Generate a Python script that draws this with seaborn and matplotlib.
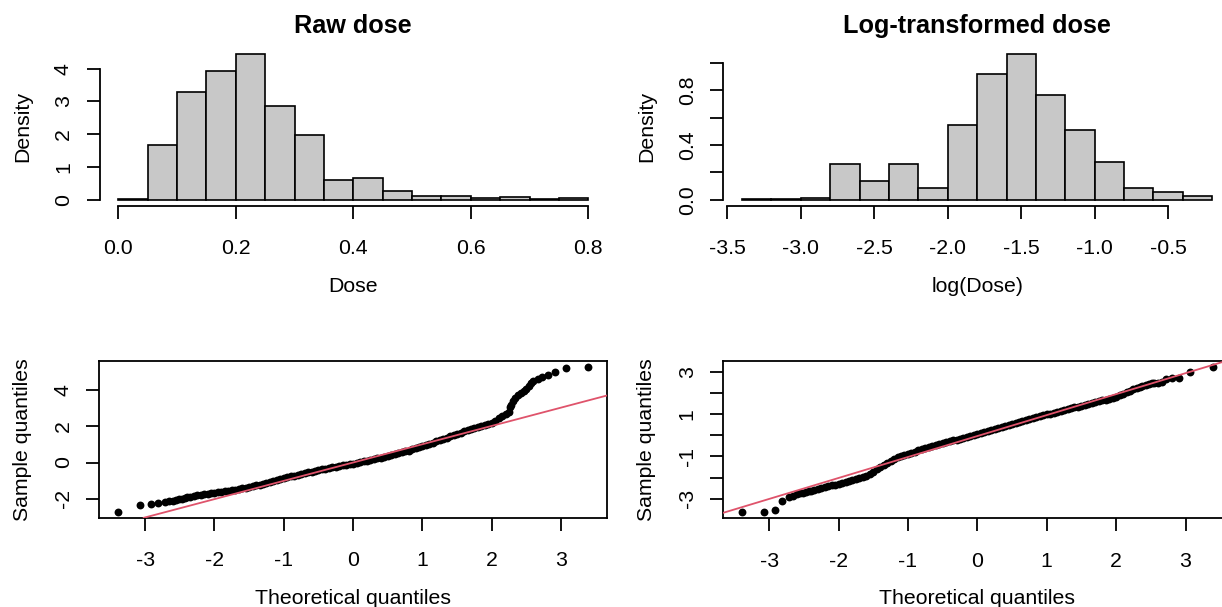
import numpy as np
import pandas as pd
import seaborn as sns
import matplotlib
matplotlib.use("Agg")
import matplotlib.pyplot as plt

# histogram bins and densities
raw_edges = [0.00, 0.05, 0.10, 0.15, 0.20, 0.25, 0.30, 0.35, 0.40,
             0.45, 0.50, 0.55, 0.60, 0.65, 0.70, 0.75, 0.80]
raw_density = [0.03, 1.66, 3.30, 3.92, 4.45, 2.85, 1.98, 0.59,
               0.65, 0.27, 0.11, 0.13, 0.06, 0.08, 0.02, 0.04]

log_edges = [-3.4, -3.2, -3.0, -2.8, -2.6, -2.4, -2.2, -2.0, -1.8,
             -1.6, -1.4, -1.2, -1.0, -0.8, -0.6, -0.4, -0.2]
log_density = [0.007, 0.004, 0.011, 0.261, 0.137, 0.261, 0.088, 0.547,
               0.918, 1.064, 0.762, 0.511, 0.273, 0.088, 0.054, 0.025]

# QQ plot points (theoretical, sample)
raw_theo = [-3.39, -3.07, -2.91, -2.81, -2.72, -2.66, -2.60, -2.55, -2.51, -2.47, -2.43, -2.40,
            -2.35, -2.30, -2.25, -2.20, -2.15, -2.10, -2.05, -2.00, -1.95, -1.90, -1.85, -1.80,
            -1.75, -1.70, -1.65, -1.60, -1.55, -1.50, -1.45, -1.40, -1.35, -1.30, -1.25, -1.20,
            -1.15, -1.10, -1.05, -1.00, -0.95, -0.90, -0.85, -0.80, -0.75, -0.70, -0.65, -0.60,
            -0.55, -0.50, -0.45, -0.40, -0.35, -0.30, -0.25, -0.20, -0.15, -0.10, -0.05, 0.00,
            0.05, 0.10, 0.15, 0.20, 0.25, 0.30, 0.35, 0.40, 0.45, 0.50, 0.55, 0.60,
            0.65, 0.70, 0.75, 0.80, 0.85, 0.90, 0.95, 1.00, 1.05, 1.10, 1.15, 1.20,
            1.25, 1.30, 1.35, 1.40, 1.45, 1.50, 1.55, 1.60, 1.65, 1.70, 1.75, 1.80,
            1.85, 1.90, 1.95, 2.00, 2.05, 2.10, 2.15, 2.20, 2.25,
            2.26, 2.28, 2.31, 2.34, 2.38, 2.42, 2.46, 2.50, 2.53, 2.56, 2.60, 2.66,
            2.72, 2.81, 2.91, 3.07, 3.39]
raw_sample = [-2.73, -2.37, -2.27, -2.21, -2.18, -2.15, -2.11, -2.06, -2.02, -1.99, -1.96, -1.93,
              -1.90, -1.86, -1.82, -1.79, -1.76, -1.73, -1.70, -1.67, -1.64, -1.61, -1.58, -1.55,
              -1.52, -1.49, -1.45, -1.42, -1.38, -1.34, -1.30, -1.26, -1.22, -1.17, -1.12, -1.07,
              -1.02, -0.97, -0.92, -0.87, -0.82, -0.77, -0.72, -0.68, -0.63, -0.59, -0.54, -0.50,
              -0.46, -0.42, -0.38, -0.34, -0.30, -0.26, -0.23, -0.19, -0.15, -0.12, -0.09, -0.06,
              -0.02, 0.02, 0.06, 0.10, 0.14, 0.18, 0.23, 0.27, 0.32, 0.36, 0.41, 0.46,
              0.51, 0.56, 0.61, 0.66, 0.72, 0.78, 0.84, 0.90, 0.97, 1.04, 1.10, 1.17,
              1.23, 1.30, 1.37, 1.44, 1.51, 1.58, 1.65, 1.72, 1.79, 1.85, 1.91, 1.96,
              2.01, 2.06, 2.12, 2.19, 2.30, 2.43, 2.57, 2.70, 2.80,
              3.05, 3.20, 3.40, 3.58, 3.72, 3.84, 3.93, 4.08, 4.20, 4.36, 4.47, 4.60,
              4.73, 4.84, 5.01, 5.19, 5.28]

log_theo = [-3.39, -3.07, -2.91, -2.81, -2.72, -2.66, -2.60, -2.55, -2.51, -2.47, -2.43, -2.40,
            -2.35, -2.30, -2.25, -2.20, -2.15, -2.10, -2.05, -2.00, -1.95, -1.90, -1.85, -1.80,
            -1.75, -1.70, -1.65, -1.60, -1.55, -1.50, -1.45, -1.40, -1.35, -1.30, -1.25, -1.20,
            -1.15, -1.10, -1.05, -1.00, -0.95, -0.90, -0.85, -0.80, -0.75, -0.70, -0.65, -0.60,
            -0.55, -0.50, -0.45, -0.40, -0.35, -0.30, -0.25, -0.20, -0.15, -0.10, -0.05, 0.00,
            0.05, 0.10, 0.15, 0.20, 0.25, 0.30, 0.35, 0.40, 0.45, 0.50, 0.55, 0.60,
            0.65, 0.70, 0.75, 0.80, 0.85, 0.90, 0.95, 1.00, 1.05, 1.10, 1.15, 1.20,
            1.25, 1.30, 1.35, 1.40, 1.45, 1.50, 1.55, 1.60, 1.65, 1.70, 1.75, 1.80,
            1.85, 1.90, 1.95, 2.00, 2.05, 2.10, 2.15, 2.20, 2.25,
            2.30, 2.34, 2.38, 2.43, 2.47, 2.51, 2.55, 2.60, 2.66, 2.72, 2.81, 2.91,
            3.07, 3.39]
log_sample = [-3.65, -3.62, -3.53, -3.10, -2.93, -2.86, -2.80, -2.75, -2.72, -2.69, -2.65, -2.62,
              -2.57, -2.53, -2.49, -2.45, -2.41, -2.37, -2.33, -2.29, -2.25, -2.21, -2.17, -2.13,
              -2.08, -2.03, -1.98, -1.92, -1.84, -1.74, -1.62, -1.50, -1.39, -1.29, -1.20, -1.12,
              -1.05, -0.99, -0.93, -0.87, -0.82, -0.77, -0.72, -0.65, -0.60, -0.55, -0.51, -0.46,
              -0.42, -0.37, -0.33, -0.29, -0.25, -0.21, -0.16, -0.12, -0.08, -0.03, 0.01, 0.06,
              0.10, 0.15, 0.19, 0.24, 0.28, 0.33, 0.38, 0.43, 0.48, 0.53, 0.58, 0.63,
              0.67, 0.72, 0.76, 0.81, 0.85, 0.90, 0.94, 0.98, 1.02, 1.07, 1.11, 1.15,
              1.19, 1.23, 1.27, 1.31, 1.34, 1.38, 1.42, 1.47, 1.51, 1.55, 1.60, 1.64,
              1.68, 1.73, 1.77, 1.82, 1.88, 1.95, 2.02, 2.08, 2.16,
              2.24, 2.29, 2.34, 2.38, 2.42, 2.45, 2.47, 2.48, 2.52, 2.66, 2.70, 2.72,
              2.99, 3.23]

# reference lines (intercept, slope)
raw_qqline = (0.0, 1.01)
log_qqline = (-0.04, 0.99)

plt.rcParams['font.family'] = ['Liberation Sans', 'DejaVu Sans']
plt.rcParams['axes.linewidth'] = 1.3

W, H = 1222, 607
fig = plt.figure(figsize=(W / 100, H / 100), dpi=100)
fig.patch.set_facecolor("white")


def px_axes(left, top, right, bottom):
    return fig.add_axes([left / W, 1 - bottom / H, (right - left) / W, (bottom - top) / H])


def r_lim(lo, hi):
    d = 0.04 * (hi - lo)
    return lo - d, hi + d


def style_axes(ax, xticks, xlabels, yticks, ylabels, xlab, ylab, title=None, box=False):
    h_px = ax.get_position().height * H
    ax.set_xticks(xticks)
    ax.set_xticklabels(xlabels)
    ax.set_yticks(yticks)
    ax.set_yticklabels(ylabels)
    ax.tick_params(axis="both", direction="out", length=9.4, width=1.3,
                   labelsize=15.3, color="black", labelcolor="black")
    ax.tick_params(axis="x", pad=25.6)
    ax.tick_params(axis="y", pad=12.6)
    for lab in ax.get_xticklabels():
        lab.set_va("baseline")
    for lab in ax.get_yticklabels():
        lab.set_rotation(90)
        lab.set_rotation_mode("anchor")
        lab.set_ha("center")
        lab.set_va("baseline")
    ax.set_xlabel(xlab, fontsize=15.3)
    ax.set_ylabel(ylab, fontsize=15.3)
    ax.xaxis.set_label_coords(0.5, -86 / h_px)
    ax.xaxis.label.set_va("baseline")
    ax.yaxis.set_label_coords(-77 / 507.6, 0.5)
    ax.yaxis.label.set_va("center")
    if title:
        ax.set_title(title, fontsize=18.2, fontweight="bold", y=1 + 14.8 / h_px,
                     pad=0, va="baseline")
    for s in ax.spines.values():
        s.set_color("black")
        s.set_linewidth(1.3)
    if not box:
        ax.spines["top"].set_visible(False)
        ax.spines["right"].set_visible(False)
        ax.spines["bottom"].set_bounds(xticks[0], xticks[-1])
        ax.spines["left"].set_bounds(yticks[0], yticks[-1])
    ax.set_facecolor("white")
    ax.grid(False)


def draw_hist(ax, edges, dens):
    mids = [(a + b) / 2 for a, b in zip(edges[:-1], edges[1:])]
    sns.histplot(x=mids, weights=dens, bins=edges, stat="count", color="#C8C8C8",
                 edgecolor="black", linewidth=1.2, alpha=1, ax=ax)
    ax.set_xlim(r_lim(edges[0], edges[-1]))
    ax.set_ylim(r_lim(0, max(dens)))


def draw_qq(ax, theo, sample, line):
    df = pd.DataFrame({"theo": theo, "sample": sample})
    sns.scatterplot(data=df, x="theo", y="sample", color="black", s=32,
                    linewidth=0, ax=ax, zorder=3)
    ax.axline((0, line[0]), slope=line[1], color="#DF536B", linewidth=1.3, zorder=4)
    ax.set_xlim(r_lim(min(theo), max(theo)))
    ax.set_ylim(r_lim(min(sample), max(sample)))


# top-left: raw dose histogram
ax1 = px_axes(99.5, 48.1, 607.1, 205.6)
draw_hist(ax1, raw_edges, raw_density)
style_axes(ax1, [0.0, 0.2, 0.4, 0.6, 0.8], ["0.0", "0.2", "0.4", "0.6", "0.8"],
           [0, 1, 2, 3, 4], ["0", "1", "2", "3", "4"], "Dose", "Density", "Raw dose")

# top-right: log dose histogram
ax2 = px_axes(723.3, 48.1, 1231.0, 205.6)
draw_hist(ax2, log_edges, log_density)
style_axes(ax2, [-3.5, -3.0, -2.5, -2.0, -1.5, -1.0, -0.5],
           ["-3.5", "-3.0", "-2.5", "-2.0", "-1.5", "-1.0", "-0.5"],
           [0.0, 0.2, 0.4, 0.6, 0.8, 1.0], ["0.0", "", "0.4", "", "0.8", ""],
           "log(Dose)", "Density", "Log-transformed dose")

qx = [-3, -2, -1, 0, 1, 2, 3]
qxl = ["-3", "-2", "-1", "0", "1", "2", "3"]

# bottom-left: QQ raw
ax3 = px_axes(99.3, 361, 607.0, 517.8)
draw_qq(ax3, raw_theo, raw_sample, raw_qqline)
style_axes(ax3, qx, qxl, [-2, 0, 2, 4], ["-2", "0", "2", "4"],
           "Theoretical quantiles", "Sample quantiles", box=True)

# bottom-right: QQ log
ax4 = px_axes(723.3, 361, 1231.4, 518.3)
draw_qq(ax4, log_theo, log_sample, log_qqline)
style_axes(ax4, qx, qxl, [-3, -2, -1, 0, 1, 2, 3], ["-3", "", "-1", "", "1", "", "3"],
           "Theoretical quantiles", "Sample quantiles", box=True)

fig.savefig("out.png", dpi=100, facecolor="white")
